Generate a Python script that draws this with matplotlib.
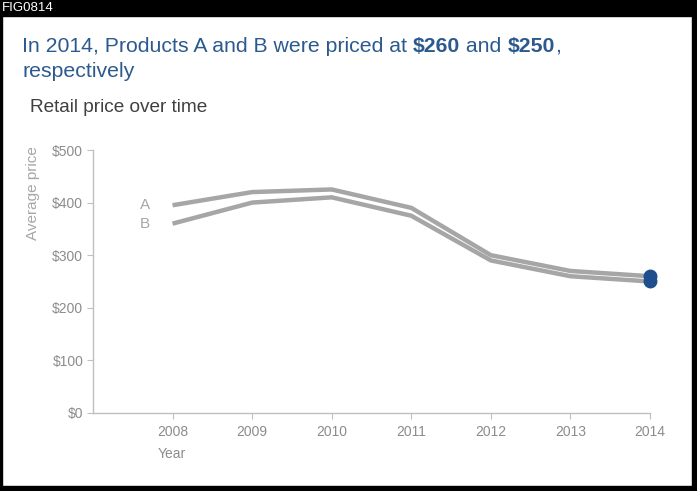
import matplotlib.pyplot as plt
from matplotlib.patches import Rectangle

plt.rcParams['font.family'] = ['Liberation Sans', 'DejaVu Sans']

years = [2008, 2009, 2010, 2011, 2012, 2013, 2014]
price_a = [395, 420, 425, 390, 300, 270, 260]
price_b = [360, 400, 410, 375, 290, 260, 250]
yticks = [0, 100, 200, 300, 400, 500]
ytick_labels = ['$0', '$100', '$200', '$300', '$400', '$500']

grey_line = '#a6a6a6'
grey_text = '#8c8c8c'
navy = '#1f4e8c'
title_blue = '#2d5a8e'

fig = plt.figure(figsize=(6.97, 4.91), dpi=100)
ax = fig.add_axes([0.1334, 0.1589, 0.7992, 0.5356])

ax.plot(years, price_a, color=grey_line, lw=3.2, solid_capstyle='butt')
ax.plot(years, price_b, color=grey_line, lw=3.2, solid_capstyle='butt')
ax.plot(years[-1], price_a[-1], 'o', color=navy, ms=9, clip_on=False, zorder=5)
ax.plot(years[-1], price_b[-1], 'o', color=navy, ms=9, clip_on=False, zorder=5)

ax.text(2007.72, price_a[0], 'A', color='#a6a6a6', fontsize=11, ha='right', va='center')
ax.text(2007.72, price_b[0], 'B', color='#a6a6a6', fontsize=11, ha='right', va='center')

ax.set_xlim(2007, 2014)
ax.set_ylim(0, 500)
ax.set_xticks(years)
ax.set_xticklabels([str(y) for y in years])
ax.set_yticks(yticks)
ax.set_yticklabels(ytick_labels)
for s in ['top', 'right']:
    ax.spines[s].set_visible(False)
for s in ['left', 'bottom']:
    ax.spines[s].set_color('#bfbfbf')
    ax.spines[s].set_linewidth(1)
ax.tick_params(colors='#bfbfbf', labelcolor=grey_text, labelsize=10, length=4)
ax.tick_params(axis='x', pad=5)
ax.tick_params(axis='y', pad=3)

fig.text(33 / 697, 1 - 193 / 491, 'Average price', rotation=90, color='#a6a6a6',
         fontsize=11, ha='center', va='center')
fig.text(158 / 697, 1 - 454 / 491, 'Year', color=grey_text, fontsize=10, ha='left', va='center')

fig.text(30 / 697, 1 - 108 / 491, 'Retail price over time', color='#404040',
         fontsize=13.7, ha='left', va='center')

# title with bold pieces
pieces = [('In 2014, Products A and B were priced at ', 'normal'),
          (r'\$260', 'bold'), (' and ', 'normal'), (r'\$250', 'bold'), (',', 'normal')]
fig.canvas.draw()
r = fig.canvas.get_renderer()
x = 22 / 697
y1 = 1 - 52 / 491
for txt, w in pieces:
    t = fig.text(x, y1, txt, color=title_blue, fontsize=15.3, fontweight=w, ha='left', va='baseline')
    bb = t.get_window_extent(renderer=r)
    x += bb.width / fig.bbox.width
fig.text(22 / 697, 1 - 77 / 491, 'respectively', color=title_blue, fontsize=15.3,
         ha='left', va='baseline')

# frame
fig.patches.append(Rectangle((0, 1 - 16 / 491), 1, 16 / 491, transform=fig.transFigure,
                             color='black', zorder=10))
fig.patches.append(Rectangle((0, 0), 2 / 697, 1, transform=fig.transFigure, color='black', zorder=10))
fig.patches.append(Rectangle((1 - 5 / 697, 0), 5 / 697, 1, transform=fig.transFigure, color='black', zorder=10))
fig.patches.append(Rectangle((0, 0), 1, 5 / 491, transform=fig.transFigure, color='black', zorder=10))
fig.text(2 / 697, 1 - 8 / 491, 'FIG0814', color='white', fontsize=9.5, ha='left', va='center', zorder=11)

fig.savefig('out.png', dpi=100)
